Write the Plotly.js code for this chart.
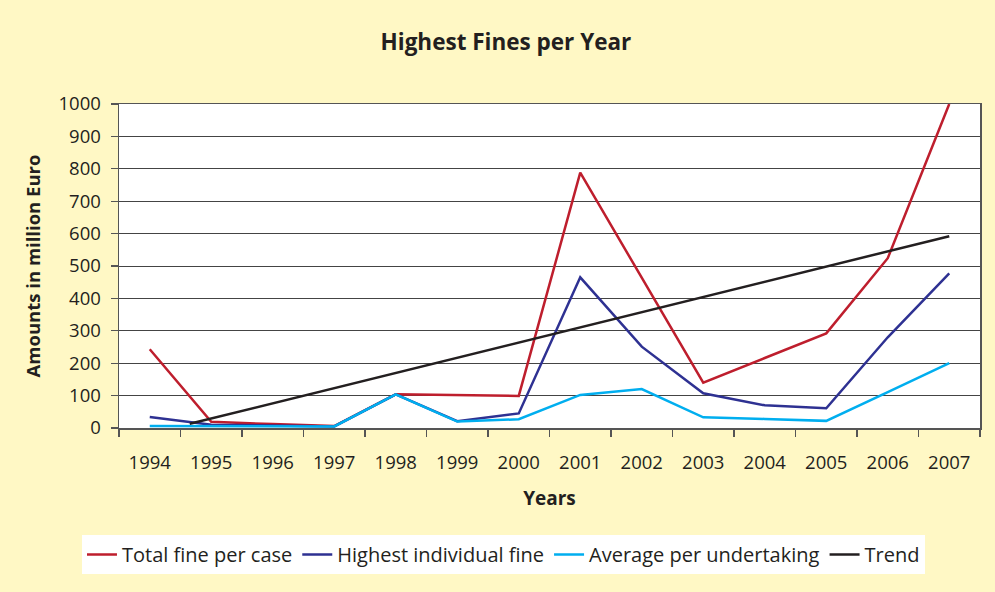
<!DOCTYPE html>
<html>
<head>
<meta charset="utf-8">
<script src="https://cdn.plot.ly/plotly-3.0.1.min.js"></script>
<style>
  html, body { margin: 0; padding: 0; background: #FFF8C5; }
  #chart { width: 995px; height: 592px; }
</style>
</head>
<body>
<div id="chart"></div>
<script>
// ---- data ----
const years = [1994, 1995, 1996, 1997, 1998, 1999, 2000, 2001, 2002, 2003, 2004, 2005, 2006, 2007];
const yearLabels = ["1994", "1995", "1996", "1997", "1998", "1999", "2000", "2001", "2002", "2003", "2004", "2005", "2006", "2007"];
const totalFinePerCase = [243, 19, 12, 6, 104, 102, 99, 788, 464, 140, 216, 292, 524, 1000];
const highestIndividualFine = [34, 10, 8, 5, 104, 21, 45, 465, 251, 107, 70, 61, 280, 477];
const averagePerUndertaking = [6, 5, 5, 5, 104, 20, 27, 102, 120, 33, 28, 22, 111, 200];
const trendYears = [1994.65, 2007];
const trendValues = [13, 592];
const yTicks = [0, 100, 200, 300, 400, 500, 600, 700, 800, 900, 1000];

const seriesNames = ["Total fine per case", "Highest individual fine", "Average per undertaking", "Trend"];
const seriesColors = ["#BE1E2D", "#2E3192", "#00AEEF", "#231F20"];

const boundaries = years.map(y => y - 0.5).concat([years[years.length - 1] + 0.5]);

const FONT = "Open Sans, Noto Sans, sans-serif";
const TXT = "#231F20";

const traces = [
  { x: years, y: totalFinePerCase, name: seriesNames[0], color: seriesColors[0] },
  { x: years, y: highestIndividualFine, name: seriesNames[1], color: seriesColors[1] },
  { x: years, y: averagePerUndertaking, name: seriesNames[2], color: seriesColors[2] },
  { x: trendYears, y: trendValues, name: seriesNames[3], color: seriesColors[3] }
].map(s => ({
  type: "scatter",
  mode: "lines",
  x: s.x,
  y: s.y,
  name: s.name,
  line: { color: s.color, width: 2.5 },
  cliponaxis: true,
  hoverinfo: "x+y+name"
}));

const layout = {
  width: 995,
  height: 592,
  paper_bgcolor: "#FFF8C5",
  plot_bgcolor: "#FFFFFF",
  margin: { l: 119, r: 15, t: 104, b: 164 },
  font: { family: FONT, color: TXT, size: 18.5 },
  title: {
    text: "Highest Fines per Year",
    font: { family: FONT, size: 22.5, weight: 700, color: TXT },
    xref: "container", x: 0.5085, xanchor: "center",
    yref: "container", y: 1 - 42 / 592, yanchor: "middle"
  },
  xaxis: {
    type: "linear",
    range: [boundaries[0], boundaries[boundaries.length - 1]],
    tickmode: "array",
    tickvals: years,
    ticktext: yearLabels,
    ticks: "",
    ticklabelstandoff: 17,
    tickfont: { family: FONT, size: 18.5, color: TXT },
    showgrid: false,
    zeroline: false,
    showline: true,
    linecolor: "#555555",
    linewidth: 1.5,
    mirror: true,
    minor: {
      tickmode: "array",
      tickvals: boundaries,
      ticks: "outside",
      ticklen: 7,
      tickwidth: 1.2,
      tickcolor: "#555555",
      showgrid: false
    },
    title: {
      text: "Years",
      font: { family: FONT, size: 19, weight: 700, color: TXT },
      standoff: 19
    },
    fixedrange: true
  },
  yaxis: {
    range: [0, 1000],
    tickmode: "array",
    tickvals: yTicks,
    ticks: "outside",
    ticklen: 7,
    tickwidth: 1.2,
    tickcolor: "#555555",
    ticklabelstandoff: 6,
    tickfont: { family: FONT, size: 18.5, color: TXT },
    showgrid: true,
    gridcolor: "#444444",
    gridwidth: 1,
    zeroline: false,
    showline: true,
    linecolor: "#555555",
    linewidth: 1.5,
    mirror: true,
    title: {
      text: "Amounts in million Euro",
      font: { family: FONT, size: 18.5, weight: 700, color: TXT },
      standoff: 13
    },
    fixedrange: true
  },
  showlegend: true,
  legend: {
    orientation: "h",
    xref: "container", x: 0.506, xanchor: "center",
    yref: "container", y: 1 - 535 / 592, yanchor: "top",
    bgcolor: "#FFFFFF",
    borderwidth: 0,
    font: { family: FONT, size: 20, color: TXT },
    traceorder: "normal",
    itemclick: false
  }
};

Plotly.newPlot("chart", traces, layout, { displayModeBar: false, staticPlot: true });
</script>
</body>
</html>
